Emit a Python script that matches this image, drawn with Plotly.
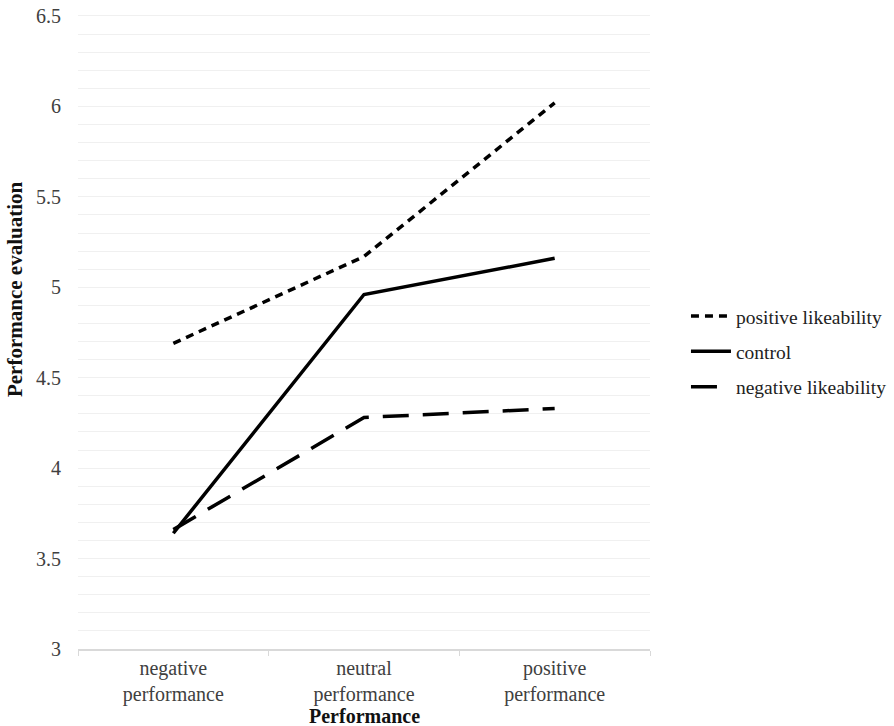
import plotly.graph_objects as go

categories = ["negative<br>performance", "neutral<br>performance", "positive<br>performance"]
series_names = ["positive likeability", "control", "negative likeability"]
positive_likeability = [4.69, 5.17, 6.02]
control = [3.64, 4.96, 5.16]
negative_likeability = [3.66, 4.28, 4.33]
y_ticks = [3, 3.5, 4, 4.5, 5, 5.5, 6, 6.5]
y_tick_labels = ["3", "3.5", "4", "4.5", "5", "5.5", "6", "6.5"]

dashes = ["8px,6px", "solid", "26px,14px"]
values = [positive_likeability, control, negative_likeability]

fig = go.Figure()
for name, vals, d in zip(series_names, values, dashes):
    fig.add_trace(go.Scatter(
        x=categories, y=vals, mode="lines", name=name, legendgroup=name,
        line=dict(color="#000000", width=3.5, dash=d),
    ))

font_family = "Liberation Serif"
fs = 20
fig.update_layout(
    width=894, height=726,
    margin=dict(l=78, r=244, t=14, b=77),
    paper_bgcolor="white", plot_bgcolor="white",
    font=dict(family=font_family, size=fs, color="#404040"),
    showlegend=True,
    legend=dict(xref="container", x=0.7673, y=0.468, xanchor="left", yanchor="middle",
                font=dict(family=font_family, size=19.5, color="#222222"),
                traceorder="grouped", tracegroupgap=7, itemwidth=40),
    xaxis=dict(
        type="category", tickson="boundaries", ticks="outside", ticklen=5,
        tickcolor="#d9d9d9", showline=True, linecolor="#d9d9d9", linewidth=1.5,
        showgrid=False, tickfont=dict(size=fs, color="#404040"),
        range=[-0.5, 2.5], automargin=False,
    ),
    yaxis=dict(
        range=[3, 6.511], tickvals=y_ticks, ticktext=y_tick_labels,
        showgrid=True, gridcolor="#f0f0f0",
        gridwidth=1, zeroline=False, showline=False, ticks="",
        tickfont=dict(size=fs, color="#404040"), ticklabeloverflow="allow",
        minor=dict(dtick=0.1, tick0=3, showgrid=True, gridcolor="#f0f0f0", gridwidth=1),
        ticklabelstandoff=16, automargin=False,
    ),
    annotations=[
        dict(text="<b>Performance</b>", xref="paper", yref="paper", x=0.5, y=-0.106,
             xanchor="center", yanchor="middle", showarrow=False,
             font=dict(family=font_family, size=20, color="#111111")),
        dict(text="<b>Performance evaluation</b>", xref="paper", yref="paper", x=-0.110, y=0.567,
             xanchor="center", yanchor="middle", showarrow=False, textangle=-90,
             font=dict(family=font_family, size=21, color="#111111")),
    ],
)

fig.write_html("out.html", config={"displayModeBar": False},
               post_script="document.body.style.margin='0';")
